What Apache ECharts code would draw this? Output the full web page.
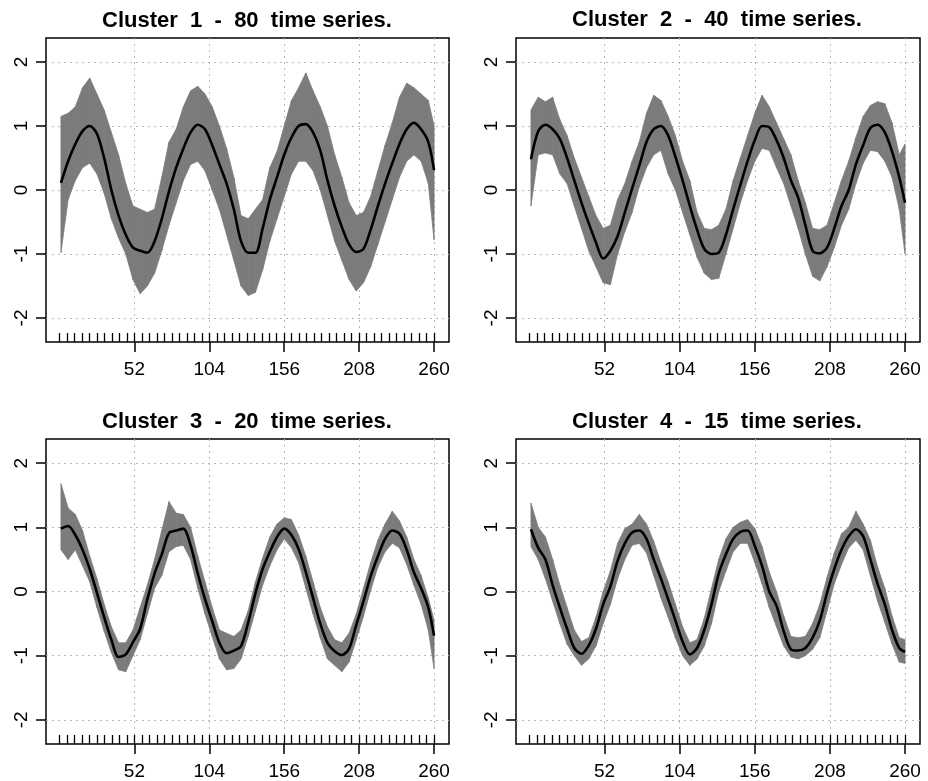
<!DOCTYPE html>
<html><head><meta charset="utf-8">
<script src="https://cdn.jsdelivr.net/npm/echarts@6/dist/echarts.min.js"></script>
<style>html,body{margin:0;padding:0;background:#fff}#c{width:928px;height:781px}</style>
</head><body><div id="c"></div>
<script>
// time index of the sampled points
const X = [1,6,11,16,21,26,31,36,41,46,51,56,61,66,71,76,81,86,91,96,101,106,111,116,121,126,131,136,141,146,151,156,161,166,171,176,181,186,191,196,201,206,211,216,221,226,231,236,241,246,251,256,260];

// Cluster 1 (80 series): centroid, upper and lower envelope of the member series
const C1_MEAN  = [0.11,0.45,0.72,0.92,1.0,0.88,0.5,0.0,-0.4,-0.7, -0.9,-0.95,-0.98,-0.8,-0.45,-0.02,0.35,0.65,0.9,1.02, 0.95,0.7,0.4,0.1,-0.3,-0.8,-0.98,-0.98,-0.6,-0.15, 0.2,0.55,0.82,1.0,1.03,0.9,0.62,0.15,-0.25,-0.58, -0.85,-0.97,-0.92,-0.62,-0.25,0.1,0.42,0.72,0.95,1.05, 0.95,0.75,0.31];
const C1_UPPER = [1.15,1.2,1.3,1.6,1.75,1.5,1.25,0.9,0.55,0.1, -0.25,-0.3,-0.35,-0.3,0.2,0.75,0.95,1.3,1.55,1.62, 1.5,1.3,1.0,0.65,0.2,-0.4,-0.45,-0.3,-0.15,0.35, 0.6,1.0,1.4,1.6,1.83,1.55,1.3,1.0,0.55,0.2, -0.2,-0.4,-0.35,-0.1,0.3,0.7,1.05,1.45,1.67,1.6, 1.5,1.4,1.0];
const C1_LOWER = [-0.98,-0.15,0.15,0.35,0.42,0.25,-0.05,-0.45,-0.75,-1.0, -1.4,-1.62,-1.5,-1.3,-0.95,-0.55,-0.2,0.15,0.4,0.45, 0.3,0.0,-0.3,-0.7,-1.1,-1.5,-1.65,-1.6,-1.25,-0.8, -0.45,-0.1,0.25,0.45,0.45,0.3,0.0,-0.4,-0.8,-1.1, -1.4,-1.58,-1.45,-1.2,-0.85,-0.5,-0.15,0.2,0.45,0.55, 0.45,0.1,-0.78];

// Cluster 2 (40 series)
const C2_MEAN  = [0.48,0.92,1.02,0.95,0.8,0.5,0.15,-0.2,-0.52,-0.82, -1.07,-0.95,-0.72,-0.35,0.02,0.38,0.75,0.95,1.0,0.85, 0.52,0.15,-0.25,-0.62,-0.92,-1.0,-0.98,-0.7,-0.3,0.08, 0.45,0.78,1.0,0.98,0.78,0.5,0.15,-0.12,-0.55,-0.95, -0.99,-0.9,-0.6,-0.25,0.0,0.4,0.7,0.97,1.02,0.9, 0.6,0.2,-0.2];
const C2_UPPER = [1.25,1.45,1.38,1.45,1.1,0.85,0.5,0.2,-0.1,-0.4, -0.6,-0.55,-0.15,0.1,0.45,0.75,1.2,1.48,1.4,1.15, 0.85,0.45,0.15,-0.35,-0.6,-0.62,-0.55,-0.3,0.15,0.5, 0.85,1.2,1.48,1.3,1.05,0.8,0.55,0.15,-0.2,-0.6, -0.62,-0.55,-0.2,0.15,0.45,0.82,1.15,1.32,1.38,1.35, 1.05,0.55,0.72];
const C2_LOWER = [-0.25,0.55,0.58,0.55,0.25,0.1,-0.25,-0.6,-0.95,-1.2, -1.45,-1.48,-1.0,-0.65,-0.35,0.05,0.35,0.55,0.62,0.25, 0.0,-0.35,-0.7,-1.05,-1.3,-1.4,-1.38,-1.0,-0.6,-0.2, 0.15,0.45,0.65,0.62,0.35,0.1,-0.25,-0.6,-1.0,-1.35, -1.42,-1.2,-0.9,-0.55,-0.3,0.1,0.42,0.62,0.6,0.45, 0.2,-0.3,-1.0];

// Cluster 3 (20 series)
const C3_MEAN  = [0.98,1.02,0.88,0.65,0.35,-0.02,-0.4,-0.75,-1.02,-0.98, -0.79,-0.58,-0.12,0.28,0.58,0.91,0.95,0.98,0.72,0.28, -0.12,-0.46,-0.8,-0.96,-0.92,-0.85,-0.48,-0.03,0.35,0.62, 0.85,0.98,0.88,0.66,0.3,-0.1,-0.5,-0.8,-0.93,-0.99, -0.89,-0.52,-0.15,0.24,0.55,0.82,0.95,0.9,0.65,0.3, 0.05,-0.25,-0.69];
const C3_UPPER = [1.68,1.3,1.2,0.95,0.55,0.2,-0.2,-0.55,-0.8,-0.8, -0.6,-0.25,0.1,0.5,0.95,1.4,1.22,1.2,1.0,0.55, 0.15,-0.25,-0.6,-0.65,-0.7,-0.6,-0.3,0.15,0.52,0.85, 1.05,1.15,1.12,0.88,0.55,0.15,-0.25,-0.55,-0.75,-0.8, -0.65,-0.35,0.05,0.45,0.8,1.05,1.25,1.1,0.85,0.5, 0.25,-0.1,-0.45];
const C3_LOWER = [0.65,0.5,0.65,0.4,0.15,-0.25,-0.62,-0.95,-1.22,-1.25, -1.0,-0.75,-0.35,0.05,0.25,0.62,0.7,0.72,0.5,0.05, -0.35,-0.7,-1.05,-1.22,-1.2,-1.05,-0.7,-0.3,0.1,0.4, 0.65,0.82,0.68,0.45,0.05,-0.35,-0.72,-1.05,-1.15,-1.25, -1.1,-0.75,-0.38,0.02,0.38,0.62,0.75,0.68,0.42,0.1, -0.2,-0.6,-1.2];

// Cluster 4 (15 series)
const C4_MEAN  = [0.97,0.68,0.5,0.1,-0.25,-0.58,-0.88,-0.97,-0.84,-0.58, -0.2,0.08,0.48,0.75,0.92,0.95,0.82,0.5,0.2,-0.12, -0.45,-0.78,-0.98,-0.88,-0.6,-0.2,0.28,0.58,0.82,0.93, 0.95,0.71,0.4,0.0,-0.22,-0.62,-0.9,-0.92,-0.88,-0.72, -0.45,-0.02,0.35,0.65,0.86,0.97,0.86,0.5,0.12,-0.2, -0.6,-0.88,-0.94];
const C4_UPPER = [1.38,1.0,0.85,0.5,0.1,-0.25,-0.6,-0.78,-0.72,-0.4, 0.0,0.32,0.75,0.98,1.05,1.2,1.05,0.78,0.45,0.15, -0.2,-0.55,-0.8,-0.75,-0.42,0.05,0.5,0.82,1.0,1.08, 1.12,0.98,0.7,0.3,0.0,-0.38,-0.7,-0.72,-0.7,-0.5, -0.2,0.22,0.6,0.9,1.0,1.25,1.05,0.8,0.38,0.05, -0.38,-0.72,-0.75];
const C4_LOWER = [0.7,0.5,0.2,-0.15,-0.5,-0.82,-1.0,-1.15,-1.05,-0.85, -0.5,-0.2,0.2,0.5,0.72,0.75,0.6,0.25,-0.1,-0.4, -0.72,-1.0,-1.15,-1.05,-0.85,-0.5,0.0,0.32,0.62,0.75, 0.75,0.45,0.12,-0.25,-0.55,-0.85,-1.02,-1.05,-1.0,-0.9, -0.72,-0.3,0.12,0.42,0.68,0.8,0.65,0.25,-0.15,-0.48, -0.82,-1.1,-1.12];

const TITLES = ['Cluster  1  -  80  time series.','Cluster  2  -  40  time series.','Cluster  3  -  20  time series.','Cluster  4  -  15  time series.'];
const X_TICKS = [52,104,156,208,260];
const Y_TICKS = [-2,-1,0,1,2];
const MINOR_TICKS = [0,5.2,10.4,15.6,20.8,26,31.2,36.4,41.6,46.8,52,57.2,62.4,67.6,72.8,78,83.2,88.4,93.6,98.8,104,109.2,114.4,119.6,124.8,130,135.2,140.4,145.6,150.8,156,161.2,166.4,171.6,176.8,182,187.2,192.4,197.6,202.8,208,213.2,218.4,223.6,228.8,234,239.2,244.4,249.6,254.8,260];

const PANELS = [
  {mean:C1_MEAN, upper:C1_UPPER, lower:C1_LOWER},
  {mean:C2_MEAN, upper:C2_UPPER, lower:C2_LOWER},
  {mean:C3_MEAN, upper:C3_UPPER, lower:C3_LOWER},
  {mean:C4_MEAN, upper:C4_UPPER, lower:C4_LOWER}
];

const FONT = 'Liberation Sans, Arial, Helvetica, sans-serif';
const GRAY = '#7b7b7b';
const GRIDLINE = {show:true, lineStyle:{color:'#b8b8b8', type:[2,4], width:1}};
const XMIN = -9.36, XMAX = 270.36, YMIN = -2.376, YMAX = 2.376;
const GRIDS = [
  {left:46, top:38, width:403, height:304},
  {left:516, top:38, width:404, height:304},
  {left:46, top:439, width:403, height:306},
  {left:516, top:439, width:404, height:306}
];
const TITLE_POS = [[247,10],[717,9],[247,411],[717,411]];

const option = {
  backgroundColor:'#fff',
  animation:false,
  title: TITLES.map((t,i)=>({text:t, left:TITLE_POS[i][0], top:TITLE_POS[i][1], textAlign:'center', padding:0,
    textStyle:{fontFamily:FONT, fontSize:22, fontWeight:'bold', color:'#000'}})),
  grid: GRIDS.map(g=>Object.assign({show:true, borderColor:'#000', borderWidth:1.5, backgroundColor:'transparent', containLabel:false}, g)),
  xAxis: [],
  yAxis: [],
  series: []
};

PANELS.forEach((p,i)=>{
  option.xAxis.push({
    gridIndex:i, type:'value', min:XMIN, max:XMAX, position:'bottom',
    axisLine:{show:false, onZero:false},
    axisTick:{show:true, customValues:X_TICKS, length:10, lineStyle:{color:'#000', width:1.5}},
    axisLabel:{show:true, customValues:X_TICKS, fontFamily:FONT, fontSize:19, color:'#000', margin:18},
    splitLine:GRIDLINE
  });
  option.xAxis.push({
    gridIndex:i, type:'value', min:XMIN, max:XMAX, position:'bottom',
    axisLine:{show:false, onZero:false},
    axisTick:{show:true, inside:true, customValues:MINOR_TICKS, length:9, lineStyle:{color:'#000', width:1.3}},
    axisLabel:{show:false},
    splitLine:{show:false}
  });
  option.yAxis.push({
    gridIndex:i, type:'value', min:YMIN, max:YMAX, position:'left',
    axisLine:{show:false, onZero:false},
    axisTick:{show:true, customValues:Y_TICKS, length:10, lineStyle:{color:'#000', width:1.5}},
    axisLabel:{show:true, customValues:Y_TICKS, rotate:90, fontFamily:FONT, fontSize:19, color:'#000', margin:15},
    splitLine:GRIDLINE
  });
  const bandData = [];
  for (let k=0;k<X.length-1;k++) bandData.push([X[k], p.lower[k], p.upper[k], X[k+1], p.lower[k+1], p.upper[k+1]]);
  option.series.push({
    type:'custom', xAxisIndex:i*2, yAxisIndex:i, silent:true, z:2,
    encode:{x:[0,3], y:[1,2,4,5]},
    data:bandData,
    renderItem:function(params, api){
      const pts = [
        api.coord([api.value(0), api.value(2)]),
        api.coord([api.value(3), api.value(5)]),
        api.coord([api.value(3), api.value(4)]),
        api.coord([api.value(0), api.value(1)])
      ];
      return {type:'polygon', shape:{points:pts}, style:{fill:GRAY, stroke:GRAY, lineWidth:0.8}};
    }
  });
  option.series.push({
    type:'line', xAxisIndex:i*2, yAxisIndex:i, silent:true, z:3,
    data:X.map((x,k)=>[x, p.mean[k]]),
    symbol:'none', smooth:0.3, lineStyle:{color:'#000', width:2.6}
  });
});

const chart = echarts.init(document.getElementById('c'), null, {renderer:'canvas'});
chart.setOption(option);
</script></body></html>
